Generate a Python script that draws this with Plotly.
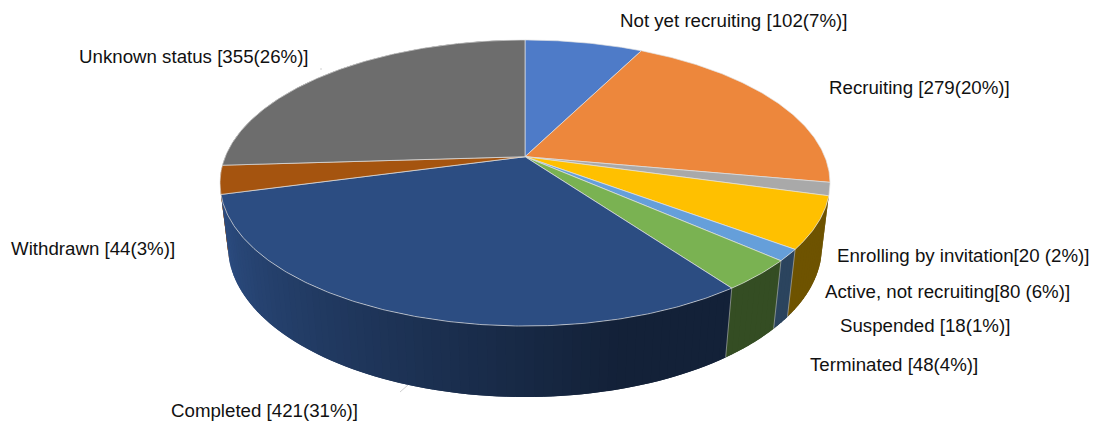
import numpy as np
import plotly.graph_objects as go

# Trial status counts, clockwise from twelve o'clock
statuses = ["Not yet recruiting", "Recruiting", "Enrolling by invitation",
            "Active, not recruiting", "Suspended", "Terminated", "Completed",
            "Withdrawn", "Unknown status"]
counts = [102, 279, 20, 80, 18, 48, 421, 44, 355]
top_colors = ["#4E7BC8", "#ED873C", "#A9A9A9", "#FFC000", "#659FDA",
              "#7AB252", "#2C4D82", "#A5540F", "#6D6D6D"]
label_texts = ["Not yet recruiting [102(7%)]", "Recruiting [279(20%)]",
               "Enrolling by invitation[20 (2%)]", "Active, not recruiting[80 (6%)]",
               "Suspended [18(1%)]", "Terminated [48(4%)]", "Completed [421(31%)]",
               "Withdrawn [44(3%)]", "Unknown status [355(26%)]"]
label_x = [620, 829, 837, 825, 840, 810, 171, 11, 79]
label_y = [21, 88, 256, 292, 326, 365, 411, 249, 57]

# Perspective parameters of the disc, in pixels on a 1095x423 canvas
APEX_X, APEX_Y = 525.0, 156.7
SCALE_X, SCALE_Y = 299.8, 138.2
TILT = 0.1839          # foreshortening front to back
DEPTH_DROP = 64.2      # wall height
DEPTH_SHRINK = 0.026   # bottom rim recedes slightly


def project(theta_deg, h=0.0):
    t = np.radians(theta_deg)
    u, v = np.sin(t), np.cos(t)
    w = 1 + TILT * v + DEPTH_SHRINK * h
    return APEX_X + SCALE_X * u / w, APEX_Y - (SCALE_Y * v - DEPTH_DROP * h) / w


def wall_shade(theta_deg):
    # Walls darken toward the lower right, brightest at the left edge
    return float(np.interp(theta_deg, [0, 165, 255, 360], [0.43, 0.43, 1.0, 1.0]))


def darken(hex_color, f):
    r, g, b = (int(hex_color[i:i + 2], 16) for i in (1, 3, 5))
    return f"rgb({r * f:.0f},{g * f:.0f},{b * f:.0f})"


EDGE = "rgba(225,225,225,0.85)"
fractions = np.array(counts) / sum(counts)
bounds = np.concatenate([[0.0], np.cumsum(fractions) * 360.0])

fig = go.Figure()


def poly(xs, ys, fill, line=None, width=0.8):
    fig.add_trace(go.Scatter(x=list(xs), y=list(ys), mode="lines", fill="toself",
                             fillcolor=fill, line=dict(color=line or fill, width=width),
                             hoverinfo="skip", showlegend=False))


# Side walls painted from the left edge round to the right; each band runs one
# step past its end and the next band paints over the overlap, hiding any seam
step = 1.5
bands = []
for i in range(len(counts)):
    a0, a1 = bounds[i], bounds[i + 1]
    if a1 < 110 or a0 > 270:
        continue
    n = max(1, int(np.ceil((a1 - a0) / step)))
    edges = np.linspace(a0, a1, n + 1)
    for s, e in zip(edges[:-1], edges[1:]):
        bands.append((s, e, i))
bands.sort(key=lambda b: -b[0])
lowest = bands[-1][0]
for s, e, i in bands:
    start = max(s - step, lowest)
    th = np.array([start, s, e])
    xt, yt = project(th)
    xb, yb = project(th, 1)
    poly(np.r_[xt, xb[::-1], xt[0]], np.r_[yt, yb[::-1], yt[0]],
         darken(top_colors[i], wall_shade((s + e) / 2)), width=0)

# Vertical seams between visible wall slices
for b in bounds[4:7]:
    x0, y0 = project(b)
    x1, y1 = project(b, 1)
    fig.add_trace(go.Scatter(x=[x0, x1], y=[y0, y1], mode="lines",
                             line=dict(color="rgba(200,200,200,0.7)", width=0.8),
                             hoverinfo="skip", showlegend=False))

# Top faces
for i in range(len(counts)):
    th = np.linspace(bounds[i], bounds[i + 1], max(8, int(bounds[i + 1] - bounds[i]) * 2))
    xs, ys = project(th)
    poly(np.r_[APEX_X, xs, APEX_X], np.r_[APEX_Y, ys, APEX_Y], top_colors[i], line=EDGE)

# Faint leader ticks by the two largest labels
leader_x = [[400, 408], [321, 321]]
leader_y = [[392, 385], [68, 70]]
for lx, ly in zip(leader_x, leader_y):
    fig.add_trace(go.Scatter(x=lx, y=ly, mode="lines",
                             line=dict(color="#D0D0D0", width=1),
                             hoverinfo="skip", showlegend=False))

for txt, x, y in zip(label_texts, label_x, label_y):
    fig.add_annotation(x=x, y=y, text=txt, showarrow=False, xanchor="left", yanchor="middle",
                       xshift=-2, yshift=0.5, font=dict(family="Liberation Sans, Arial, sans-serif",
                                                        size=18.7, color="#111111"))

fig.update_layout(width=1095, height=423, margin=dict(l=0, r=0, t=0, b=0),
                  paper_bgcolor="white", plot_bgcolor="white",
                  xaxis=dict(range=[0, 1095], visible=False, fixedrange=True),
                  yaxis=dict(range=[423, 0], visible=False, fixedrange=True))
fig.write_html("out.html", config={"displayModeBar": False})
